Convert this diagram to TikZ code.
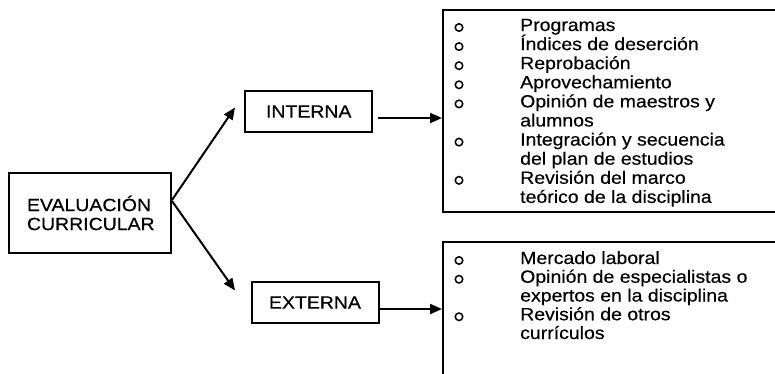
\documentclass[tikz,border=0pt]{standalone}
\usepackage{fontspec}
\setmainfont{Liberation Sans}[FakeStretch=1.1,FakeBold=0.4]
\usetikzlibrary{arrows.meta}
\begin{document}
\begin{tikzpicture}[x=1pt,y=-1pt,
  every node/.style={font=\fontsize{17.7}{19}\selectfont},
  frame/.style={draw,line width=2pt,rectangle,inner sep=0pt},
  arr/.style={line width=2pt,-{Triangle[length=12pt,width=10pt]}},
  itm/.style={anchor=base west,inner sep=0pt},
  bul/.style={draw,circle,line width=1.5pt,minimum size=7.5pt,inner sep=0pt}]
\useasboundingbox (0,0) rectangle (775,374);
\clip (0,0) rectangle (775,374);
% boxes
\node[frame,minimum width=162pt,minimum height=80pt,text width=126pt,align=left] (eval) at (90,213)
  {EVALUACIÓN\\CURRICULAR};
\node[frame,minimum width=127pt,minimum height=41pt,text width=85pt,align=left] (interna) at (308.5,111.5) {INTERNA};
\node[frame,minimum width=127pt,minimum height=41pt,text width=93pt,align=left] (externa) at (315.5,302.5) {EXTERNA};
\node[frame,minimum width=357pt,minimum height=202pt] (top) at (621.5,111) {};
\node[frame,minimum width=357pt,minimum height=178pt] (bot) at (621.5,331) {};
% connectors
\coordinate (e1) at ([yshift=13pt]eval.east);
\coordinate (e2) at ([yshift=12pt]eval.east);
\coordinate (ti) at ([xshift=-9pt,yshift=4pt]interna.west);
\coordinate (te) at ([xshift=-16pt,yshift=12pt]externa.west);
\draw[arr] (e1) -- (ti);
\draw[arr] (e2) -- (te);
\coordinate (si) at ([xshift=5pt,yshift=-6.5pt]interna.east);
\coordinate (se) at ([yshift=-6.5pt]externa.east);
\draw[arr] (si) -- (si -| top.west);
\draw[arr] (se) -- (se -| bot.west);
% top list
\node[itm] (t1) at (520,31) {Programas};
\node[itm] (t2) at (520,50.1) {Índices de deserción};
\node[itm] (t3) at (520,69.2) {Reprobación};
\node[itm] (t4) at (520,88.3) {Aprovechamiento};
\node[itm] (t5) at (520,107.4) {Opinión de maestros y};
\node[itm] (t5b) at (520,126.5) {alumnos};
\node[itm] (t6) at (520,145.6) {Integración y secuencia};
\node[itm] (t6b) at (520,164.7) {del plan de estudios};
\node[itm] (t7) at (520,183.8) {Revisión del marco};
\node[itm] (t7b) at (520,202.9) {teórico de la disciplina};
\foreach \n/\y in {1/27.5,2/46.6,3/65.7,4/84.8,5/103.9,6/142.1,7/180.3}
  \node[bul] (tb\n) at (459,\y) {};
% bottom list
\node[itm] (b1) at (520,264) {Mercado laboral};
\node[itm] (b2) at (520,282.75) {Opinión de especialistas o};
\node[itm] (b2b) at (520,301.5) {expertos en la disciplina};
\node[itm] (b3) at (520,320.25) {Revisión de otros};
\node[itm] (b3b) at (520,339) {currículos};
\foreach \n/\y in {1/260.5,2/279.25,3/316.75}
  \node[bul] (bb\n) at (459,\y) {};
\end{tikzpicture}
\end{document}
